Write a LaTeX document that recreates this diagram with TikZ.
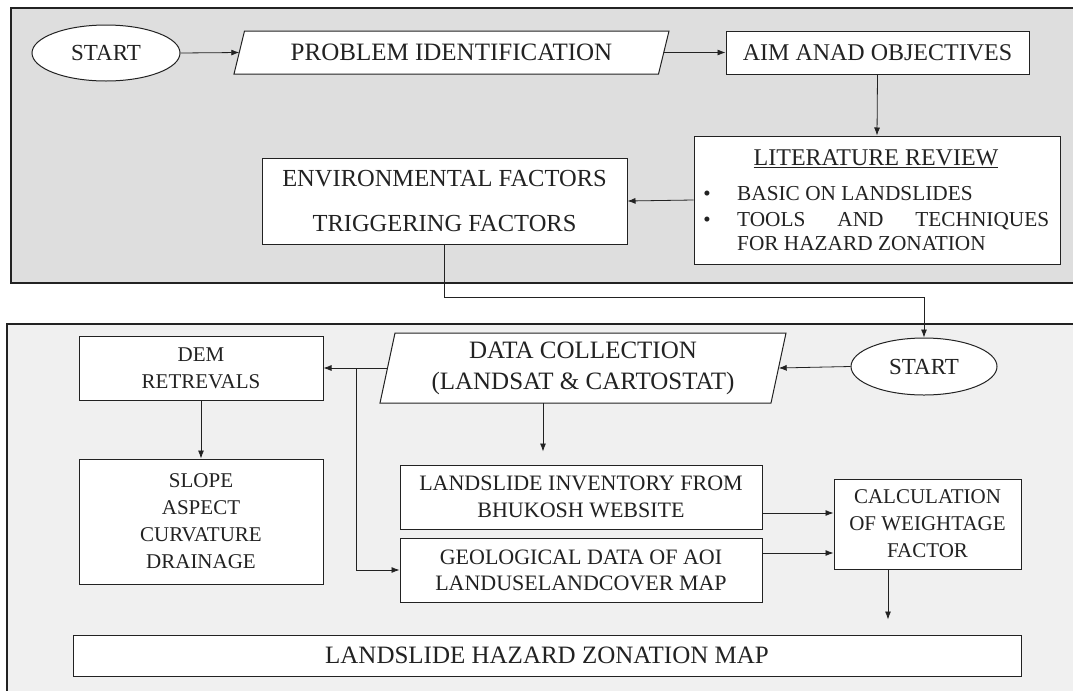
\documentclass[tikz,border=0pt]{standalone}
\usepackage{fontspec}
\setmainfont{Liberation Serif}
\usetikzlibrary{shapes.geometric,arrows.meta}
\definecolor{panelA}{HTML}{DEDEDE}
\definecolor{panelB}{HTML}{F0F0F0}
\definecolor{ink}{HTML}{222222}
\newcommand{\fsz}[2]{\fontsize{#1}{#2}\selectfont}
\tikzset{
  box/.style={draw=ink, line width=1pt, fill=white, inner sep=0pt, align=center, text=ink},
  oval/.style={ellipse, draw=ink, line width=1pt, fill=white, inner sep=0pt, text=ink},
  para/.style={draw=ink, line width=1pt, fill=white},
  ghost/.style={inner sep=0pt, text=ink},
  panelline/.style={draw=ink, line width=1.2pt},
  conn/.style={draw=ink, line width=0.8pt, -{Latex[length=8pt,width=6pt]}},
  txt/.style={inner sep=0pt, text=ink},
}
\begin{document}
\begin{tikzpicture}[x=1pt,y=-1pt]
\useasboundingbox (0,0) rectangle (1073,691);
\fill[white] (0,0) rectangle (1073,691);
% panels
\fill[panelA] (11,8) rectangle (1073,283);
\draw[panelline] (1073,8) -- (11,8) -- (11,283) -- (1073,283);
\fill[panelB] (7,324) rectangle (1073,691);
\draw[panelline] (1073,324) -- (7,324) -- (7,691);

% ---- top panel ----
\node[oval, minimum width=148, minimum height=56, font=\fsz{23}{28}] (start1) at (106,53) {START};
\path[para] (234,74) -- (244.5,31) -- (669,31) -- (658.5,74) -- cycle;
\node[ghost, minimum width=424, minimum height=43, font=\fsz{25}{30}] (prob) at (451.5,52.5) {PROBLEM IDENTIFICATION\hspace{12pt}};
\node[box, minimum width=303, minimum height=43, font=\fsz{24}{29}] (aim) at (877.5,52.5) {AIM ANAD OBJECTIVES};
\node[box, minimum width=366, minimum height=128] (lit) at (877,200) {};
\node[txt, font=\fsz{24}{29}, anchor=base] (littitle) at (876,165) {\underline{LITERATURE REVIEW}};
\node[txt, font=\fsz{21}{25}, anchor=base] (bul1) at (707,200) {•};
\node[txt, font=\fsz{21}{25}, anchor=base] (bul2) at (707,226) {•};
\node[txt, font=\fsz{21.3}{25}, anchor=base west] (lit1) at (737,200) {BASIC ON LANDSLIDES};
\node[txt, font=\fsz{21.3}{25}, anchor=base west] (lit2) at (737,226) {\makebox[312pt][s]{TOOLS AND TECHNIQUES}};
\node[txt, font=\fsz{21.3}{25}, anchor=base west] (lit3) at (737,250) {FOR HAZARD ZONATION};
\node[box, minimum width=365, minimum height=86, font=\fsz{24.5}{45}] (env) at (444.5,201) {ENVIRONMENTAL FACTORS\\TRIGGERING FACTORS};

% ---- bottom panel ----
\node[oval, minimum width=146, minimum height=57, font=\fsz{23}{28}] (start2) at (924,366.5) {START};
\path[para] (380,403) -- (395,333) -- (786,333) -- (771,403) -- cycle;
\node[ghost, minimum width=391, minimum height=70, font=\fsz{25}{31}] (data) at (583,368) {\begin{tabular}{@{}c@{}}DATA COLLECTION\\(LANDSAT \& CARTOSTAT)\end{tabular}\hspace{20pt}};
\node[box, minimum width=244, minimum height=64, font=\fsz{21}{27}] (dem) at (201,368) {DEM\\RETREVALS};
\node[box, minimum width=244, minimum height=125, font=\fsz{21}{27}] (slope) at (201,521.5) {SLOPE\\ASPECT\\CURVATURE\\DRAINAGE};
\node[box, minimum width=362, minimum height=64, font=\fsz{22}{27}] (inv) at (581,497) {LANDSLIDE INVENTORY FROM\\BHUKOSH WEBSITE};
\node[box, minimum width=362, minimum height=64, font=\fsz{22}{26}] (geo) at (581,570) {GEOLOGICAL DATA OF AOI\\LANDUSELANDCOVER MAP};
\node[box, minimum width=187, minimum height=90, font=\fsz{21}{27}] (calc) at (927.5,524) {CALCULATION\\OF WEIGHTAGE\\FACTOR};
\node[box, minimum width=948, minimum height=41, font=\fsz{25}{30}] (haz) at (547,655.5) {LANDSLIDE HAZARD ZONATION MAP};

% ---- connectors ----
\draw[conn] (start1.east) -- (prob.west);
\draw[conn] (prob.east) -- (aim.west);
\draw[conn] (aim.south) -- (lit.north);
\draw[conn] (lit.west) -- (env.east);
\coordinate (bend) at (924,297);
\draw[conn] (env.south) |- (bend) -- (start2.north);
\draw[conn] (start2.west) -- (data.east);
\draw[conn] (data.west) -- (dem.east);
\coordinate (split) at (356,368);
\draw[conn] (split) |- (geo.west);
\draw[conn, shorten >=13pt] ([xshift=-40pt]data.south) -- ([xshift=-40pt]data.south |- inv.north);
\draw[conn] (dem.south) -- (slope.north);
\draw[conn] ([yshift=-16pt]inv.east) -- ([yshift=-16pt]inv.east -| calc.west);
\draw[conn] ([yshift=17pt]geo.east) -- ([yshift=17pt]geo.east -| calc.west);
\draw[conn, shorten >=15pt] ([xshift=-39.5pt]calc.south) -- ([xshift=-39.5pt]calc.south |- haz.north);
\end{tikzpicture}
\end{document}
